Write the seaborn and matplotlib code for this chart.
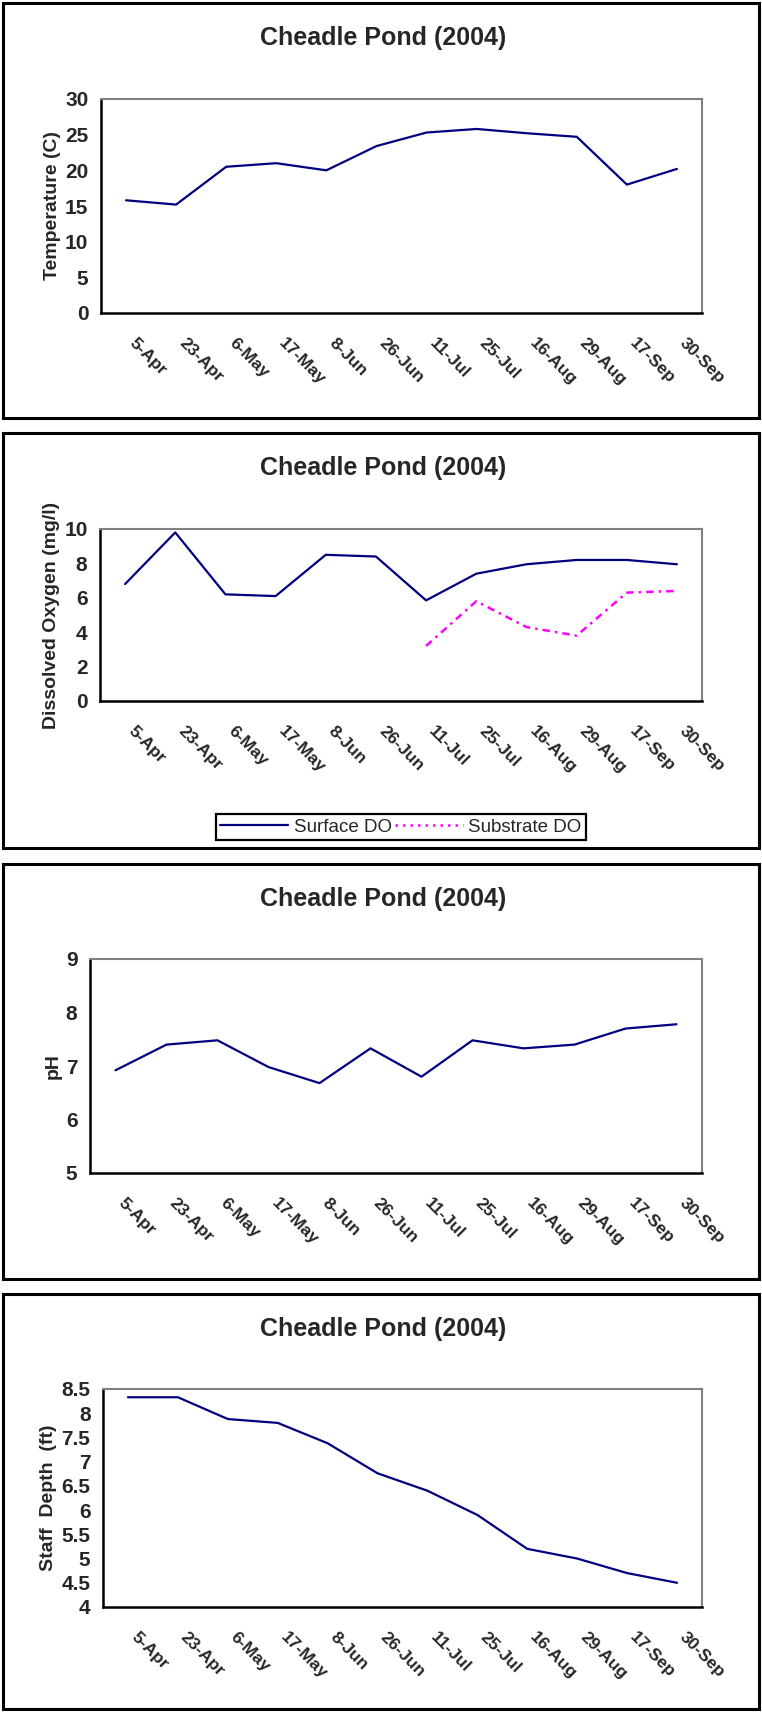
import numpy as np
import pandas as pd
import matplotlib
matplotlib.use("Agg")
import matplotlib.pyplot as plt
from matplotlib.patches import Rectangle
from matplotlib.lines import Line2D
from matplotlib.transforms import ScaledTranslation
import seaborn as sns

# sampling dates (category labels on the x axis)
dates = ["5-Apr", "23-Apr", "6-May", "17-May", "8-Jun", "26-Jun",
         "11-Jul", "25-Jul", "16-Aug", "29-Aug", "17-Sep", "30-Sep"]

temperature = [15.8, 15.2, 20.5, 21.0, 20.0, 23.4, 25.3, 25.8, 25.2, 24.7, 18.0, 20.2]
surface_do = [6.8, 9.8, 6.2, 6.1, 8.5, 8.4, 5.85, 7.4, 7.95, 8.2, 8.2, 7.95]
substrate_do = [np.nan, np.nan, np.nan, np.nan, np.nan, np.nan, 3.2, 5.8, 4.3, 3.8, 6.3, 6.4]
ph = [6.92, 7.4, 7.48, 6.98, 6.68, 7.33, 6.8, 7.48, 7.33, 7.4, 7.7, 7.78]
staff_depth = [8.33, 8.33, 7.88, 7.8, 7.38, 6.76, 6.4, 5.9, 5.2, 5.0, 4.7, 4.5]

title = "Cheadle Pond (2004)"
navy = "#000080"
magenta = "#FF00FF"

sns.set_style("white")
plt.rcParams["font.family"] = ["Liberation Sans", "DejaVu Sans"]

W, H = 762, 1712
fig = plt.figure(figsize=(W / 100, H / 100), dpi=100)


def px_axes(left, top, right, bottom):
    return fig.add_axes([left / W, 1 - bottom / H, (right - left) / W, (bottom - top) / H])


def panel_box(top, bottom):
    fig.add_artist(Rectangle((3 / W, 1 - bottom / H), (759 - 3) / W, (bottom - top) / H,
                             transform=fig.transFigure, fill=False, edgecolor="black", lw=2.2))


def style_axes(ax, ylim, yticks, ylabel):
    ax.set_xlim(-0.5, len(dates) - 0.5)
    ax.set_ylim(*ylim)
    ax.set_yticks(yticks)
    ax.set_yticklabels([f"{t:g}" for t in yticks], fontsize=15, fontweight="bold")
    ax.set_ylabel(ylabel, fontsize=14, fontweight="bold", labelpad=3)
    ax.set_xlabel("")
    # tick marks between categories, labels at category centres
    ax.set_xticks(np.arange(-0.5, len(dates), 1))
    ax.set_xticklabels([])
    ax.set_xticks(range(len(dates)), minor=True)
    ax.set_xticklabels(dates, minor=True, rotation=-45, ha="left", va="bottom",
                       rotation_mode="anchor", fontsize=12.5, fontweight="bold")
    shift = ScaledTranslation(3 / 72, 0, fig.dpi_scale_trans)
    for lab in ax.get_xticklabels(minor=True):
        lab.set_transform(lab.get_transform() + shift)
    ax.tick_params(axis="x", which="major", direction="out", length=6, width=1.5, color="black")
    ax.tick_params(axis="x", which="minor", length=0, pad=24)
    ax.tick_params(axis="y", direction="out", length=5, width=1.5, color="black", pad=4)
    for s in ["left", "bottom"]:
        ax.spines[s].set_color("black")
        ax.spines[s].set_linewidth(1.8)
    for s in ["top", "right"]:
        ax.spines[s].set_color("#808080")
        ax.spines[s].set_linewidth(1.5)


x = np.arange(len(dates))
panels = [(3, 418), (433, 848), (864, 1279), (1294, 1709)]
for top, bottom in panels:
    panel_box(top, bottom)
    fig.text(383 / W, 1 - (top + 35) / H, title, ha="center", va="center",
             fontsize=18, fontweight="bold")

# Temperature
ax1 = px_axes(101, 99, 702, 313)
sns.lineplot(x=x, y=temperature, ax=ax1, color=navy, lw=1.6, sort=False)
style_axes(ax1, (0, 30), range(0, 31, 5), "Temperature (C)")

# Dissolved oxygen
ax2 = px_axes(100, 529, 702, 701)
df_do = pd.DataFrame({"x": x, "Surface DO": surface_do, "Substrate DO": substrate_do})
sns.lineplot(data=df_do, x="x", y="Surface DO", ax=ax2, color=navy, lw=1.6, sort=False)
sns.lineplot(data=df_do.dropna(), x="x", y="Substrate DO", ax=ax2, color=magenta, lw=1.8,
             linestyle=(0, (3, 2, 1, 2)), sort=False)
style_axes(ax2, (0, 10), range(0, 11, 2), "Dissolved Oxygen (mg/l)")
handles = [Line2D([], [], color=navy, lw=1.6),
           Line2D([], [], color=magenta, lw=1.8, linestyle=(0, (1, 2)))]
fig.legend(handles, ["Surface DO", "Substrate DO"], loc="center",
           bbox_to_anchor=(401 / W, 1 - 827 / H), ncol=2, frameon=True, fancybox=False,
           edgecolor="black", framealpha=1, fontsize=13.5, handlelength=3.6,
           handletextpad=0.3, columnspacing=0.2, borderpad=0.25)
fig.legends[0].get_frame().set_linewidth(1.6)

# pH
ax3 = px_axes(90, 959, 702, 1173)
sns.lineplot(x=x, y=ph, ax=ax3, color=navy, lw=1.6, sort=False)
style_axes(ax3, (5, 9), range(5, 10), "pH")

# Staff depth
ax4 = px_axes(103, 1389, 702, 1607)
sns.lineplot(x=x, y=staff_depth, ax=ax4, color=navy, lw=1.6, sort=False)
style_axes(ax4, (4, 8.5), np.arange(4, 8.51, 0.5), "Staff  Depth  (ft)")

fig.savefig("out.png", dpi=100, facecolor="white")
